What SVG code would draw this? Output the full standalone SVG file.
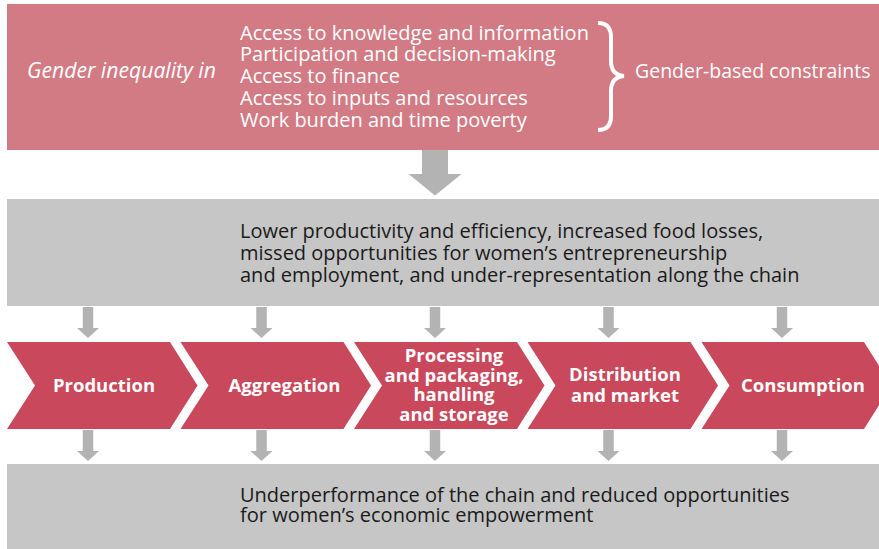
<svg xmlns="http://www.w3.org/2000/svg" width="879" height="549" viewBox="0 0 879 549">
<style>
.pink{fill:#d27b84}
.grey{fill:#c6c6c6}
.chev{fill:#c9485b}
.arr{fill:#b3b3b3}
.wt{fill:#ffffff;font-family:"Open Sans","Liberation Sans",sans-serif;font-size:20px}
.dk{fill:#1a1a1a;font-family:"Open Sans","Liberation Sans",sans-serif;font-size:20px}
.it{font-style:italic;font-size:21.2px}
.gb{font-size:19.5px}
.cl{fill:#ffffff;font-family:"Open Sans","Liberation Sans",sans-serif;font-size:18.5px;font-weight:bold;text-anchor:middle}
</style>
<defs>
<path id="sa" fill="#b3b3b3" d="M-5.25 0 H5.25 V21 H11 L0 31 L-11 21 H-5.25 Z"/>
</defs>
<rect width="879" height="549" fill="#ffffff"/>

<g id="constraints">
<rect class="pink" x="7" y="4" width="872" height="146"/>
<text class="wt it" x="27" y="78">Gender inequality in</text>
<text class="wt"><tspan x="240" y="39.5">Access to knowledge and information</tspan><tspan x="240" y="61.3">Participation and decision-making</tspan><tspan x="240" y="83">Access to finance</tspan><tspan x="240" y="104.8">Access to inputs and resources</tspan><tspan x="240" y="126.5">Work burden and time poverty</tspan></text>
<path d="M598 23 Q611 23 611 37 L611 61 Q611 75 624 76 Q611 77 611 91 L611 116 Q611 130 598 130" fill="none" stroke="#ffffff" stroke-width="4"/>
<text class="wt gb" x="635" y="78">Gender-based constraints</text>
</g>

<g id="consequences">
<rect class="grey" x="7" y="199" width="872" height="107"/>
<text class="dk"><tspan x="240" y="238">Lower productivity and efficiency, increased food losses,</tspan><tspan x="240" y="260">missed opportunities for women’s entrepreneurship</tspan><tspan x="240" y="282">and employment, and under-representation along the chain</tspan></text>
</g>

<g id="production">
<path class="chev" d="M7 342 H170 L197.5 385.5 L170 429 H7 L35 385.5 Z"/>
<text class="cl" x="104" y="392">Production</text>
</g>
<g id="aggregation">
<path class="chev" d="M180.5 342 H343.5 L371 385.5 L343.5 429 H180.5 L208.5 385.5 Z"/>
<text class="cl" x="284.5" y="392">Aggregation</text>
</g>
<g id="processing">
<path class="chev" d="M354 342 H517 L544.5 385.5 L517 429 H354 L382 385.5 Z"/>
<text class="cl"><tspan x="454" y="362">Processing</tspan><tspan x="454" y="381.5">and packaging,</tspan><tspan x="454" y="401">handling</tspan><tspan x="454" y="420.5">and storage</tspan></text>
</g>
<g id="distribution">
<path class="chev" d="M527.5 342 H690.5 L718 385.5 L690.5 429 H527.5 L555.5 385.5 Z"/>
<text class="cl"><tspan x="625" y="381">Distribution</tspan><tspan x="625" y="401.5">and market</tspan></text>
</g>
<g id="consumption">
<path class="chev" d="M701.5 342 H864 L891.5 385.5 L864 429 H701.5 L729.5 385.5 Z"/>
<text class="cl" x="803" y="392">Consumption</text>
</g>

<g id="outcome">
<rect class="grey" x="7" y="464" width="872" height="85"/>
<text class="dk"><tspan x="240" y="502">Underperformance of the chain and reduced opportunities</tspan><tspan x="240" y="522">for women’s economic empowerment</tspan></text>
</g>

<g id="connectors">
<path class="arr" d="M422 150 H448 V174 H461.5 L435 195.5 L408.5 174 H422 Z"/>
<use href="#sa" x="88" y="307"/>
<use href="#sa" x="261.5" y="307"/>
<use href="#sa" x="435" y="307"/>
<use href="#sa" x="608.5" y="307"/>
<use href="#sa" x="782" y="307"/>
<use href="#sa" x="88" y="430"/>
<use href="#sa" x="261.5" y="430"/>
<use href="#sa" x="435" y="430"/>
<use href="#sa" x="608.5" y="430"/>
<use href="#sa" x="782" y="430"/>
</g>
</svg>
